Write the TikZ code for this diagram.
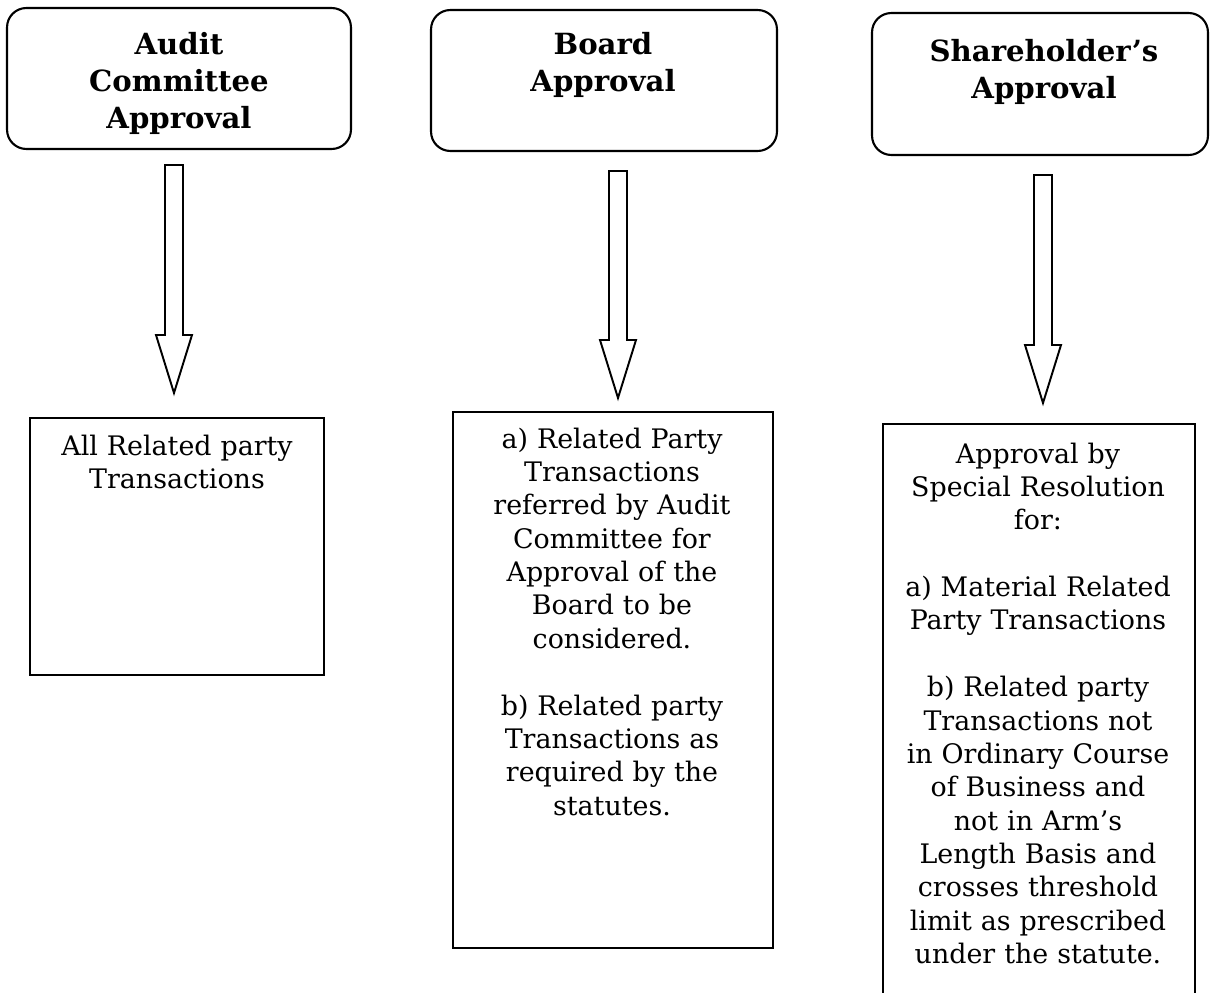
\documentclass[tikz,border=0pt]{standalone}
\usepackage{fontspec}
\setmainfont{DejaVu Serif}
\usetikzlibrary{calc}

\begin{document}
\begin{tikzpicture}[
    x=0.02cm, y=-0.02cm,
    headbox/.style={draw, rounded corners=11pt, line width=1.2pt, inner sep=0pt},
    bodybox/.style={draw, line width=1.2pt, inner sep=0pt},
    headtext/.style={font=\fontsize{16.6}{20.8}\selectfont\bfseries, align=center, text width=6.6cm, inner sep=0pt, anchor=base},
    bodytext/.style={font=\fontsize{15.3}{19}\selectfont, align=center, text width=6.2cm, inner sep=0pt, anchor=base},
    blockarrow/.style={draw, line width=1.1pt, line join=miter}
]
\useasboundingbox (0,0) rectangle (1210,993);

% Approval levels
\node[headbox, minimum width=6.88cm, minimum height=2.82cm] (h1) at (179,78.5) {};
\node[headbox, minimum width=6.92cm, minimum height=2.82cm] (h2) at (604,80.5) {};
\node[headbox, minimum width=6.72cm, minimum height=2.84cm] (h3) at (1040,84) {};
\node[headtext] (t1) at (179,55) {Audit\\Committee\\Approval};
\node[headtext] (t2) at (603,55) {Board\\Approval};
\node[headtext] (t3) at (1044,62) {Shareholder’s\\Approval};

% What each level approves
\node[bodybox, minimum width=5.88cm, minimum height=5.14cm] (b1) at (177,546.5) {};
\node[bodybox, minimum width=6.4cm, minimum height=10.72cm] (b2) at (613,680) {};
\node[bodybox, minimum width=6.24cm, minimum height=11.72cm] (b3) at (1039,717) {};

\node[bodytext] (s1) at (177,455) {All Related party\\Transactions};
\node[bodytext] (s2) at (612,448) {a) Related Party\\Transactions\\referred by Audit\\Committee for\\Approval of the\\Board to be\\considered.\\[\baselineskip]
    b) Related party\\Transactions as\\required by the\\statutes.};
\node[bodytext] (s3) at (1038,463) {Approval by\\Special Resolution\\for:\\[\baselineskip]
    a) Material Related\\Party Transactions\\[\baselineskip]
    b) Related party\\Transactions not\\in Ordinary Course\\of Business and\\not in Arm’s\\Length Basis and\\crosses threshold\\limit as prescribed\\under the statute.};

% Block arrows between the levels
\coordinate (a1top) at (174,165); \coordinate (a1tip) at (174,393);
\coordinate (a2top) at (618,171); \coordinate (a2tip) at (618,398);
\coordinate (a3top) at (1043,175); \coordinate (a3tip) at (1043,403);

\draw[blockarrow] ($(a1top)+(-9,0)$) -- ($(a1top)+(9,0)$) -- ($(a1tip)+(9,-58)$) -- ($(a1tip)+(18,-58)$) -- (a1tip) -- ($(a1tip)+(-18,-58)$) -- ($(a1tip)+(-9,-58)$) -- cycle;
\draw[blockarrow] ($(a2top)+(-9,0)$) -- ($(a2top)+(9,0)$) -- ($(a2tip)+(9,-58)$) -- ($(a2tip)+(18,-58)$) -- (a2tip) -- ($(a2tip)+(-18,-58)$) -- ($(a2tip)+(-9,-58)$) -- cycle;
\draw[blockarrow] ($(a3top)+(-9,0)$) -- ($(a3top)+(9,0)$) -- ($(a3tip)+(9,-58)$) -- ($(a3tip)+(18,-58)$) -- (a3tip) -- ($(a3tip)+(-18,-58)$) -- ($(a3tip)+(-9,-58)$) -- cycle;

\end{tikzpicture}
\end{document}
